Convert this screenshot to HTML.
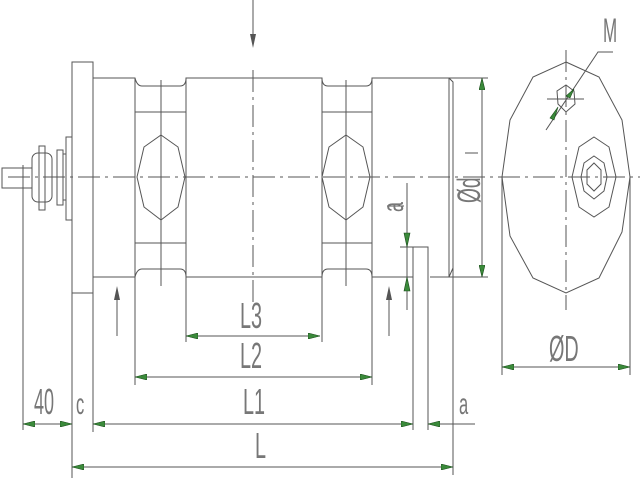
<!DOCTYPE html>
<html><head><meta charset="utf-8"><style>
html,body{margin:0;padding:0;background:#fff;width:640px;height:480px;overflow:hidden}
svg{display:block}
text{font-family:"Liberation Sans",sans-serif;fill:#777;font-weight:normal}
</style></head><body>
<svg width="640" height="480" viewBox="0 0 640 480" xmlns="http://www.w3.org/2000/svg">
<defs>
<marker id="ar" viewBox="0 0 12 6" refX="12" refY="3" markerWidth="12" markerHeight="6" orient="auto-start-reverse" markerUnits="userSpaceOnUse">
<path d="M0,0 L12,3 L0,6 Z" fill="#3a8a3a" stroke="#1a4a1a" stroke-width="0.6"/></marker>
</defs>
<g stroke="#555" stroke-width="1" fill="none">
<!-- flange -->
<rect x="72" y="62" width="21" height="231"/>
<line x1="72" y1="293" x2="72" y2="478"/>
<line x1="93" y1="293" x2="93" y2="432"/>
<!-- shaft & coupling -->
<rect x="2" y="168" width="30" height="20"/>
<line x1="23" y1="165" x2="23" y2="430"/>
<rect x="32" y="153" width="20" height="49" rx="6"/>
<rect x="39" y="146" width="6" height="64"/>
<rect x="57" y="150" width="6" height="55"/>
<rect x="63" y="154" width="3" height="46"/>
<rect x="66" y="137" width="6" height="83"/>
<!-- body -->
<path d="M93,78 H135 Q137,86 142,86 H180 Q186,86 186,78 H322 Q322,86 328,86 H366 Q372,86 372,78 H449 L453,82 V277 H449"/>
<path d="M93,277 H135 Q137,269 142,269 H180 Q186,269 186,277 H322 Q322,269 328,269 H366 Q372,269 372,277 H400"/>
<line x1="430" y1="277" x2="449" y2="277"/>
<line x1="449" y1="78" x2="449" y2="277"/>
<line x1="449" y1="277" x2="453" y2="268"/>
<line x1="453" y1="277" x2="453" y2="475"/>
<line x1="135" y1="78" x2="135" y2="385"/>
<line x1="186" y1="78" x2="186" y2="342"/>
<line x1="322" y1="78" x2="322" y2="342"/>
<line x1="372" y1="78" x2="372" y2="385"/>
<line x1="135" y1="112" x2="186" y2="112"/><line x1="135" y1="243" x2="186" y2="243"/>
<line x1="322" y1="112" x2="372" y2="112"/><line x1="322" y1="243" x2="372" y2="243"/>
<polygon points="161,135 178,147 185,177 178,207 161,220 144,207 137,177 144,147"/>
<polygon points="346,135 363,147 370,177 363,207 346,220 329,207 322,177 329,147"/>
<line x1="161" y1="80" x2="161" y2="286"/>
<line x1="346" y1="80" x2="346" y2="286"/>
<!-- a detail -->
<line x1="407" y1="183" x2="407" y2="310"/>
<path d="M400,247 H428 V430"/>
<line x1="413" y1="247" x2="413" y2="430"/>
<line x1="400" y1="277" x2="413" y2="277"/>
<line x1="387" y1="206" x2="404" y2="206"/>
<!-- dia d dim -->
<line x1="449" y1="78" x2="488" y2="78"/><line x1="449" y1="277" x2="488" y2="277"/>
<line x1="482" y1="78" x2="482" y2="277" marker-start="url(#ar)" marker-end="url(#ar)"/>
<line x1="465" y1="153" x2="478" y2="153"/>
<!-- center lines -->
<line x1="8" y1="177" x2="640" y2="177" stroke-dasharray="22,5,3,5"/>
<line x1="253" y1="70" x2="253" y2="310" stroke-dasharray="22,5,3,5"/>
<line x1="253" y1="0" x2="253" y2="46"/>
<!-- flow arrows -->
<line x1="117" y1="336" x2="117" y2="292"/>
<line x1="389" y1="336" x2="389" y2="292"/>
<!-- end view -->
<polygon points="566,62 599,77 622,120 630,177 622,232 599,278 566,293 533,278 510,236 502,177 510,120 533,77"/>
<line x1="566" y1="50" x2="566" y2="310" stroke-dasharray="22,5,3,5"/>
<polygon points="594,137 609,147 616,177 609,207 594,217 579,207 572,177 579,147"/>
<polygon points="594,156 604,163 607,177 604,191 594,199 584,191 581,177 584,163"/>
<polygon points="594,163 601,170 601,184 594,191 587,184 587,170"/>
<polygon points="566,85 574,91 575,104 566,112 558,104 557,91"/>
<line x1="547" y1="99" x2="584" y2="99"/>
<path d="M546,130 L598,52 H613"/>
<line x1="502" y1="177" x2="502" y2="375"/><line x1="630" y1="177" x2="630" y2="375"/>
<!-- bottom dims -->
<line x1="186" y1="336" x2="320" y2="336" marker-start="url(#ar)" marker-end="url(#ar)"/>
<line x1="135" y1="377" x2="372" y2="377" marker-start="url(#ar)" marker-end="url(#ar)"/>
<line x1="502" y1="367" x2="630" y2="367" marker-start="url(#ar)" marker-end="url(#ar)"/>
<line x1="23" y1="424" x2="72" y2="424" marker-start="url(#ar)" marker-end="url(#ar)"/>
<line x1="93" y1="424" x2="413" y2="424" marker-start="url(#ar)" marker-end="url(#ar)"/>
<line x1="475" y1="424" x2="428" y2="424" marker-end="url(#ar)"/>
<line x1="72" y1="467" x2="453" y2="467" marker-start="url(#ar)" marker-end="url(#ar)"/>
</g>
<g fill="#555" stroke="none">
<path d="M250,34 L253,48 L256,34 Z"/>
<path d="M114,300 L117,286 L120,300 Z"/>
<path d="M386,300 L389,286 L392,300 Z"/>
</g>
<g fill="#3a8a3a" stroke="#1a4a1a" stroke-width="0.6">
<path d="M407,247 L404,233 L410,233 Z"/><path d="M407,277 L404,291 L410,291 Z"/>
<path d="M574,89 L570,98 L566,96 Z"/><path d="M558,107 L550,118 L554,120 Z"/>
</g>
<g>
<text x="603" y="42" font-size="34" transform="translate(603,0) scale(0.5,1) translate(-603,0)">M</text>
<text x="240" y="328" font-size="36" transform="translate(240,0) scale(0.55,1) translate(-240,0)">L3</text>
<text x="240" y="368" font-size="36" transform="translate(240,0) scale(0.55,1) translate(-240,0)">L2</text>
<text x="243" y="414" font-size="36" transform="translate(243,0) scale(0.55,1) translate(-243,0)">L1</text>
<text x="255" y="458" font-size="36" transform="translate(255,0) scale(0.55,1) translate(-255,0)">L</text>
<text x="34" y="414" font-size="36" transform="translate(34,0) scale(0.5,1) translate(-34,0)">40</text>
<text x="76" y="414" font-size="30" transform="translate(76,0) scale(0.55,1) translate(-76,0)">c</text>
<text x="459" y="414" font-size="30" transform="translate(459,0) scale(0.55,1) translate(-459,0)">a</text>
<text x="549" y="361" font-size="36" transform="translate(549,0) scale(0.55,1) translate(-549,0)">ØD</text>
<text font-size="30" transform="translate(403,212) rotate(-90) scale(0.6,1)">a</text>
<text font-size="32" transform="translate(480,203) rotate(-90) scale(0.6,1)">Ød</text>
</g>
</svg>
</body></html>
